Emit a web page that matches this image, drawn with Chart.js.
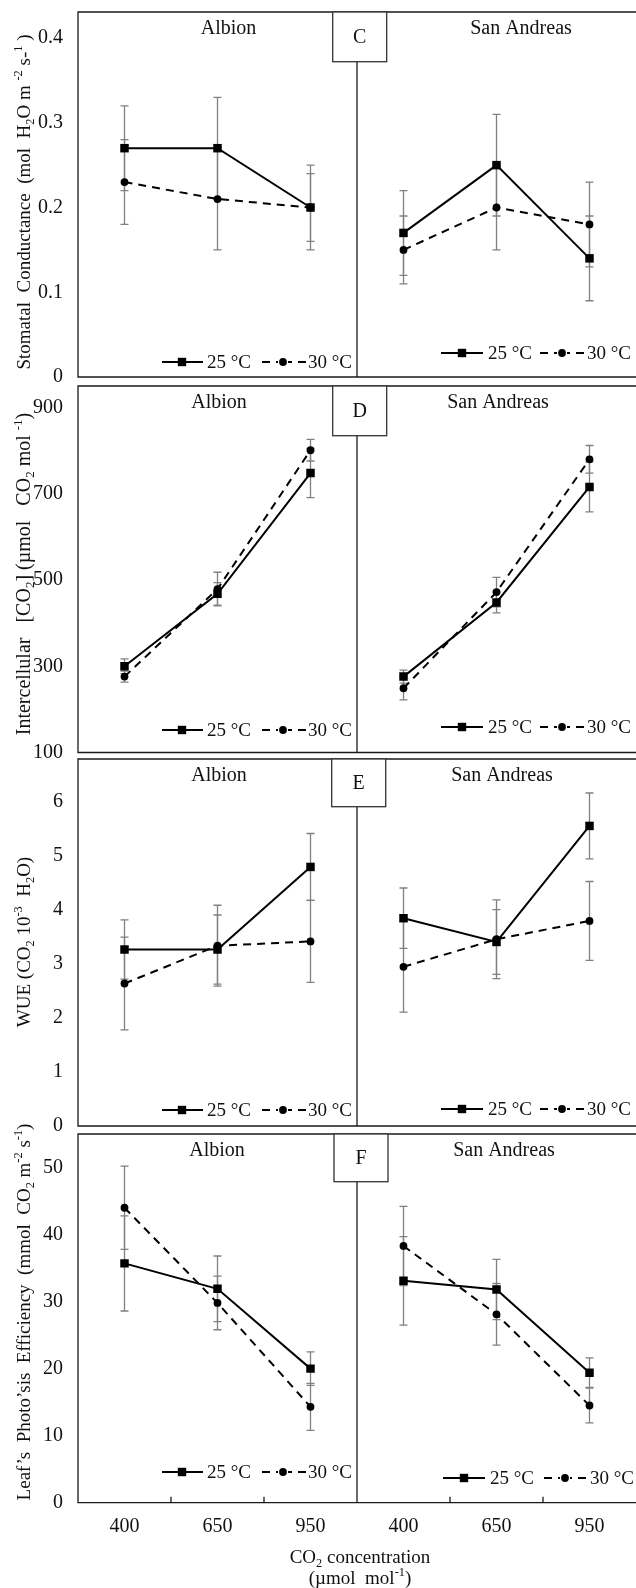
<!DOCTYPE html>
<html><head><meta charset="utf-8">
<script src="https://cdn.jsdelivr.net/npm/chart.js@4.4.1/dist/chart.umd.min.js"></script>
<style>
html,body{margin:0;padding:0;background:#fff;overflow:hidden;width:636px;height:1588px;}
#wrap{position:absolute;left:0;top:0;width:636px;height:1588px;overflow:hidden;}
canvas{position:absolute;left:0;top:0;display:block;}
</style></head><body>
<div id="wrap"></div>
<script>
// ---------- DATA ----------
const xLabels = ['400','650','950','400','650','950'];
const siteNames = ['Albion','San Andreas'];
const seriesNames = ['25 °C','30 °C'];

// Panel C: Stomatal conductance
const cTicks   = [0, 0.1, 0.2, 0.3, 0.4];
const cAlb25   = [0.27, 0.27, 0.20];  const cAlb25Err = [0.05, 0.06, 0.05];
const cAlb30   = [0.23, 0.21, 0.20];  const cAlb30Err = [0.05, 0.06, 0.04];
const cSA25    = [0.17, 0.25, 0.14];  const cSA25Err  = [0.05, 0.06, 0.05];
const cSA30    = [0.15, 0.20, 0.18];  const cSA30Err  = [0.04, 0.05, 0.05];

// Panel D: Intercellular CO2
const dTicks   = [100, 300, 500, 700, 900];
const dAlb25   = [300, 468, 748];     const dAlb25Err = [17, 26, 57];
const dAlb30   = [276, 479, 801];     const dAlb30Err = [13, 39, 25];
const dSA25    = [276, 448, 716];     const dSA25Err  = [15, 24, 58];
const dSA30    = [249, 472, 780];     const dSA30Err  = [27, 34, 32];

// Panel E: WUE
const eTicks   = [0, 1, 2, 3, 4, 5, 6];
const eAlb25   = [3.27, 3.27, 4.80];  const eAlb25Err = [0.55, 0.64, 0.62];
const eAlb30   = [2.64, 3.34, 3.42];  const eAlb30Err = [0.86, 0.75, 0.76];
const eSA25    = [3.85, 3.41, 5.56];  const eSA25Err  = [0.56, 0.60, 0.61];
const eSA30    = [2.95, 3.46, 3.80];  const eSA30Err  = [0.84, 0.73, 0.73];

// Panel F: Leaf photosynthesis efficiency
const fTicks   = [0, 10, 20, 30, 40, 50];
const fAlb25   = [35.7, 31.9, 20.0];  const fAlb25Err = [7.1, 4.9, 2.5];
const fAlb30   = [44.0, 29.8, 14.3];  const fAlb30Err = [6.2, 4.0, 3.5];
const fSA25    = [33.1, 31.8, 19.4];  const fSA25Err  = [6.6, 4.5, 2.2];
const fSA30    = [38.3, 28.1, 14.5];  const fSA30Err  = [5.9, 4.6, 2.6];

// ---------- LAYOUT ----------
const FAM = '"Liberation Serif", "Times New Roman", serif';
const INK = '#111';
const CW = 636, CH = 1588;
const LEG_L = {l1:[162,203], sq:182, t1:207, l2:[262,306], ci:283, t2:308};
const LEG_R = {l1:[441,483], sq:462, t1:488, l2:[540,584], ci:562, t2:587};
const LEG_RF = {l1:[443,485], sq:464, t1:490, l2:[544,586], ci:565, t2:590};

const panels = [
  {letter:'C', top:12, bottom:377, min:0, max:0.4307, ticks:cTicks,
   s:[[cAlb25,cAlb25Err],[cAlb30,cAlb30Err],[cSA25,cSA25Err],[cSA30,cSA30Err]],
   siteX:[228.5,521], boxX:332.7, boxH:49.7, legY:[362,353], legs:[LEG_L,LEG_R], titleCY:202, titleSize:19,
   title:[['Stomatal  Conductance  (mol  H'],['2','sub'],['O m '],['-2','sup'],[' s-'],['1','sup'],[' )']]},
  {letter:'D', top:386, bottom:752.5, min:100, max:950, ticks:dTicks,
   s:[[dAlb25,dAlb25Err],[dAlb30,dAlb30Err],[dSA25,dSA25Err],[dSA30,dSA30Err]],
   siteX:[219,498], boxX:332.7, boxH:49.7, legY:[730,727], legs:[LEG_L,LEG_R], titleCY:574, titleSize:20,
   title:[['Intercellular   [CO'],['2','sub'],['] (\u00b5mol   CO'],['2','sub'],[' mol '],['-1','sup'],[')']]},
  {letter:'E', top:759, bottom:1126, min:0, max:6.8, ticks:eTicks,
   s:[[eAlb25,eAlb25Err],[eAlb30,eAlb30Err],[eSA25,eSA25Err],[eSA30,eSA30Err]],
   siteX:[219,502], boxX:331.7, boxH:47.7, legY:[1110,1109], legs:[LEG_L,LEG_R], titleCY:942, titleSize:19,
   title:[['WUE (CO'],['2','sub'],[' 10'],['-3','sup'],['  H'],['2','sub'],['O)']]},
  {letter:'F', top:1134, bottom:1502.7, min:0, max:55, ticks:fTicks, xaxis:true,
   s:[[fAlb25,fAlb25Err],[fAlb30,fAlb30Err],[fSA25,fSA25Err],[fSA30,fSA30Err]],
   siteX:[217,504], boxX:334, boxH:47.7, legY:[1472,1478], legs:[LEG_L,LEG_RF], titleCY:1312, titleSize:19,
   title:[['Leaf\u2019s  Photo\u2019sis  Efficiency  (mmol  CO'],['2','sub'],[' m'],['-2','sup'],[' s'],['-1','sup'],[')']]}
];

function pad(arr, side){ return side === 0 ? arr.concat([null,null,null]) : [null,null,null].concat(arr); }

function drawRich(ctx, segs, cx, cy, rot, size){
  ctx.save();
  ctx.translate(cx, cy);
  if (rot) ctx.rotate(-Math.PI/2);
  let total = 0;
  const parts = segs.map(s => {
    const sz = s[1] ? size*0.65 : size;
    ctx.font = sz + 'px ' + FAM;
    const w = ctx.measureText(s[0]).width;
    total += w;
    return {t:s[0], sz, w, k:s[1]};
  });
  let x = -total/2;
  ctx.textBaseline = 'alphabetic';
  ctx.textAlign = 'left';
  ctx.fillStyle = INK;
  parts.forEach(p => {
    ctx.font = p.sz + 'px ' + FAM;
    const dy = p.k === 'sub' ? size*0.22 : (p.k === 'sup' ? -size*0.42 : 0);
    ctx.fillText(p.t, x, dy);
    x += p.w;
  });
  ctx.restore();
}

function drawLegend(ctx, L, y){
  ctx.save();
  ctx.strokeStyle = '#000'; ctx.fillStyle = '#000'; ctx.lineWidth = 2;
  ctx.beginPath(); ctx.moveTo(L.l1[0], y); ctx.lineTo(L.l1[1], y); ctx.stroke();
  ctx.fillRect(L.sq-4.2, y-4.2, 8.4, 8.4);
  ctx.setLineDash([8,6]);
  ctx.beginPath(); ctx.moveTo(L.l2[0], y); ctx.lineTo(L.ci-5, y); ctx.stroke();
  ctx.beginPath(); ctx.moveTo(L.l2[1], y); ctx.lineTo(L.ci+5, y); ctx.stroke();
  ctx.setLineDash([]);
  ctx.beginPath(); ctx.arc(L.ci, y, 3.9, 0, Math.PI*2); ctx.fill();
  ctx.fillStyle = INK;
  ctx.font = '19px ' + FAM; ctx.textBaseline = 'middle'; ctx.textAlign = 'left';
  ctx.fillText(seriesNames[0], L.t1, y+1);
  ctx.fillText(seriesNames[1], L.t2, y+1);
  ctx.restore();
}

const wrap = document.getElementById('wrap');

panels.forEach((p, pi) => {
  const cv = document.createElement('canvas');
  cv.width = CW; cv.height = CH;
  cv.style.width = CW + 'px'; cv.style.height = CH + 'px';
  wrap.appendChild(cv);

  const xH = 40;
  const padBottom = CH - p.bottom - (p.xaxis ? xH : 0);

  const mk = (vals, side, dashed) => ({
    data: pad(vals, side),
    borderColor: '#000', backgroundColor: '#000',
    borderWidth: 2, borderDash: dashed ? [8,6] : [],
    pointStyle: dashed ? 'circle' : 'rect',
    pointRadius: dashed ? 3.9 : 6,
    pointBorderWidth: 0, pointHoverRadius: dashed ? 3.9 : 6,
    pointBackgroundColor: '#000', pointBorderColor: '#000',
    tension: 0, spanGaps: false, fill: false
  });

  const datasets = [
    mk(p.s[1][0], 0, true), mk(p.s[0][0], 0, false),
    mk(p.s[3][0], 1, true), mk(p.s[2][0], 1, false)
  ];
  const errs = [
    [pad(p.s[1][0],0), pad(p.s[1][1],0)], [pad(p.s[0][0],0), pad(p.s[0][1],0)],
    [pad(p.s[3][0],1), pad(p.s[3][1],1)], [pad(p.s[2][0],1), pad(p.s[2][1],1)]
  ];

  const deco = {
    id: 'deco' + pi,
    beforeDatasetsDraw(chart){
      const ctx = chart.ctx, xs = chart.scales.x, ys = chart.scales.y;
      ctx.save();
      ctx.strokeStyle = '#808080'; ctx.lineWidth = 1.3;
      errs.forEach(([v, e]) => {
        v.forEach((val, j) => {
          if (val === null) return;
          const x = xs.getPixelForValue(j);
          const y1 = ys.getPixelForValue(val + e[j]);
          const y2 = ys.getPixelForValue(val - e[j]);
          ctx.beginPath();
          ctx.moveTo(x, y1); ctx.lineTo(x, y2);
          ctx.moveTo(x-4, y1); ctx.lineTo(x+4, y1);
          ctx.moveTo(x-4, y2); ctx.lineTo(x+4, y2);
          ctx.stroke();
        });
      });
      ctx.restore();
    },
    afterDatasetsDraw(chart){
      const ctx = chart.ctx, a = chart.chartArea, xs = chart.scales.x;
      ctx.save();
      ctx.strokeStyle = '#1a1a1a'; ctx.lineWidth = 1.3;
      ctx.beginPath();
      ctx.moveTo(CW + 2, a.top); ctx.lineTo(a.left, a.top); ctx.lineTo(a.left, a.bottom); ctx.lineTo(CW + 2, a.bottom);
      ctx.stroke();
      const xd = (xs.getPixelForValue(2) + xs.getPixelForValue(3)) / 2;
      ctx.beginPath(); ctx.moveTo(xd, a.top + p.boxH); ctx.lineTo(xd, a.bottom); ctx.stroke();
      if (p.xaxis) {
        [0,1,3,4].forEach(j => {
          const xt = (xs.getPixelForValue(j) + xs.getPixelForValue(j+1)) / 2;
          ctx.beginPath(); ctx.moveTo(xt, a.bottom); ctx.lineTo(xt, a.bottom - 6); ctx.stroke();
        });
      }
      ctx.fillStyle = '#fff';
      ctx.fillRect(p.boxX, a.top, 54, p.boxH);
      ctx.strokeStyle = '#333';
      ctx.strokeRect(p.boxX, a.top, 54, p.boxH);
      ctx.fillStyle = INK;
      ctx.font = '20px ' + FAM; ctx.textAlign = 'center'; ctx.textBaseline = 'middle';
      ctx.fillText(p.letter, p.boxX + 27, a.top + p.boxH/2 + 1);
      ctx.fillText(siteNames[0], p.siteX[0], a.top + 17);
      ctx.fillText(siteNames[1], p.siteX[1], a.top + 17);
      ctx.restore();
      drawLegend(ctx, p.legs[0], p.legY[0]);
      drawLegend(ctx, p.legs[1], p.legY[1]);
      drawRich(ctx, p.title, 30, p.titleCY, true, p.titleSize);
      if (p.xaxis) {
        drawRich(ctx, [['CO'],['2','sub'],[' concentration']], 360, 1563, false, 19);
        drawRich(ctx, [['(\u00b5mol  mol'],['-1','sup'],[')']], 360, 1584, false, 19);
      }
    }
  };

  new Chart(cv.getContext('2d'), {
    type: 'line',
    data: { labels: xLabels, datasets },
    plugins: [deco],
    options: {
      responsive: false, animation: false, events: [],
      layout: { autoPadding: false, padding: { left: 0, right: 0, top: p.top, bottom: padBottom } },
      plugins: { legend: { display: false }, tooltip: { enabled: false }, title: { display: false } },
      scales: {
        x: {
          type: 'category', offset: true, display: !!p.xaxis,
          grid: { display: false, drawTicks: false }, border: { display: false },
          ticks: { color: INK, font: { family: FAM, size: 20, lineHeight: 1 }, padding: 14, maxRotation: 0, autoSkip: false },
          afterFit: s => { s.height = p.xaxis ? xH : 0; s.paddingLeft = 0; s.paddingRight = 0; }
        },
        y: {
          type: 'linear', min: p.min, max: p.max,
          grid: { display: false, drawTicks: false }, border: { display: false },
          ticks: { color: INK, font: { family: FAM, size: 20, lineHeight: 1 }, padding: 15, callback: v => String(v) },
          afterBuildTicks: s => { s.ticks = p.ticks.map(v => ({ value: v })); },
          afterFit: s => { s.width = 78; s.paddingTop = 0; s.paddingBottom = 0; }
        }
      }
    }
  });
});
</script>
</body></html>
